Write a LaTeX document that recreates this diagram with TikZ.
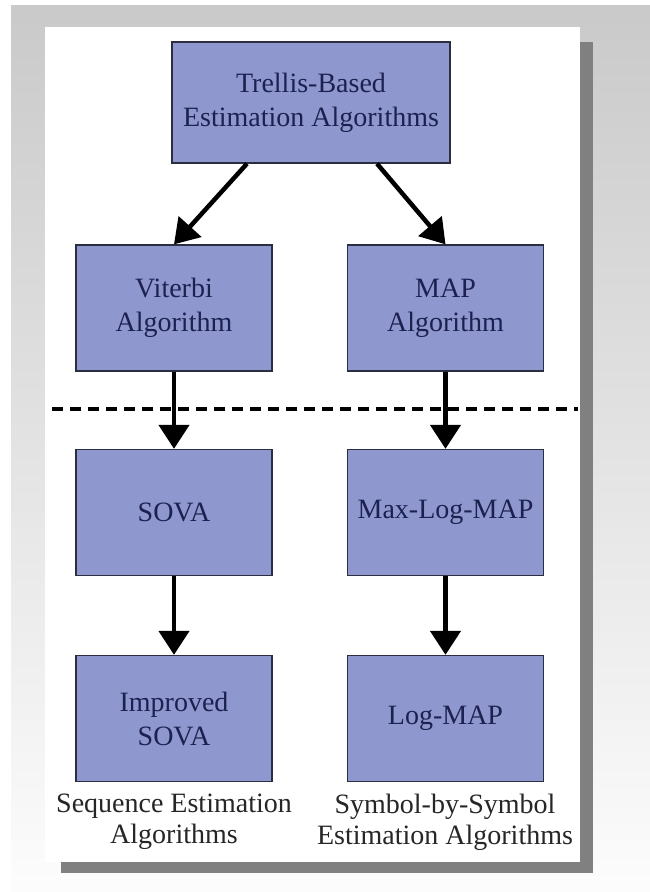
\documentclass[tikz,border=0pt]{standalone}
\usepackage{fontspec}
\setmainfont{Liberation Serif}
\usetikzlibrary{arrows.meta}
\definecolor{boxblue}{HTML}{8F98CE}
\definecolor{boxtext}{HTML}{1C2150}
\definecolor{boxline}{HTML}{2B2D40}

\begin{document}
\begin{tikzpicture}[x=1pt, y=-1pt,
  algbox/.style={draw=boxline, line width=1.3pt, fill=boxblue, text=boxtext,
    minimum width=196pt, minimum height=126pt, inner sep=0pt, align=center,
    font=\fontsize{28}{34}\selectfont},
  grouplabel/.style={text=black!85, align=center, inner sep=0pt,
    font=\fontsize{28}{31}\selectfont},
  flow/.style={line width=4.5pt, -{Triangle[width=30pt,length=24pt]}}]
\useasboundingbox (0,0) rectangle (650,892);
\shade[top color=black!21, bottom color=black!1] (11,5) rectangle (650,892);
% panel and its shadow
\fill[black!50] (61,42) rectangle (593,873);
\fill[white] (45,27) rectangle (580,862);
\draw[line width=4pt, dash pattern=on 11pt off 7pt] (52,409) -- (578,409);

\node[algbox, minimum width=278pt, minimum height=121pt] (trellis) at (311,102.5) {Trellis-Based\\Estimation Algorithms};
\node[algbox] (viterbi) at (174,308) {Viterbi\\Algorithm};
\node[algbox] (map) at (445.5,308) {MAP\\Algorithm};
\node[algbox] (sova) at (174,512.5) {SOVA};
\node[algbox] (maxlog) at (445.5,512.5) {Max-Log-MAP};
\node[algbox] (isova) at (174,718.5) {Improved\\SOVA};
\node[algbox] (logmap) at (445.5,718.5) {Log-MAP};

\node[grouplabel, anchor=north] (seqlabel) at (174,794) {Sequence Estimation\\Algorithms};
\node[grouplabel, anchor=north] (symlabel) at (445,794) {Symbol-by-Symbol\\Estimation Algorithms};

\draw[flow] ([xshift=-64pt]trellis.south) -- (viterbi.north);
\draw[flow] ([xshift=66pt]trellis.south) -- (map.north);
\foreach \a/\b in {viterbi/sova, sova/isova, map/maxlog, maxlog/logmap}
  \draw[flow] (\a) -- (\b);
\end{tikzpicture}
\end{document}
